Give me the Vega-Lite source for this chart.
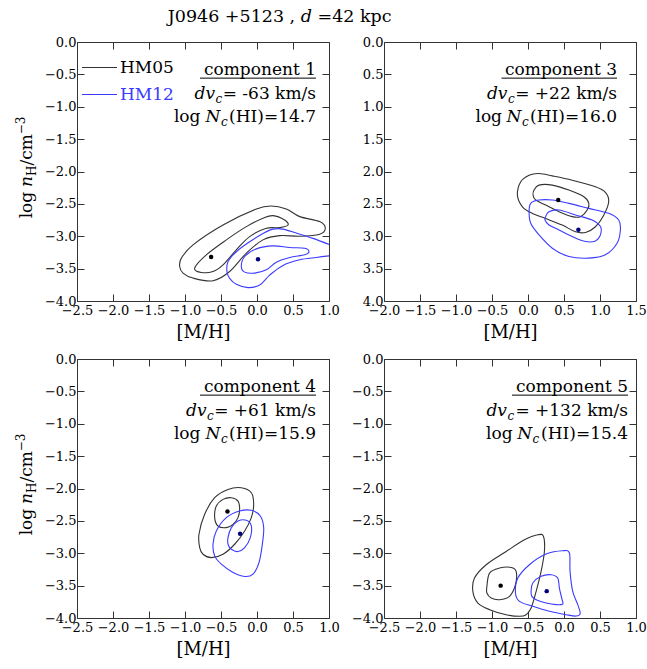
{
  "$schema": "https://vega.github.io/schema/vega-lite/v6.json",
  "background": "white",
  "padding": {"left": 14, "top": 8, "right": 0, "bottom": 0},
  "bounds": "flush",
  "title": {"text": "J0946 +5123 , 𝑑 =42 kpc", "font": "DejaVu Serif", "fontSize": 17.5, "fontWeight": "normal", "color": "#000000", "anchor": "middle", "dx": -51, "offset": 10},
  "datasets": {
    "contours": [
      {"p":1,"m":"HM05","k":"o","i":0,"x":-1.074,"y":-3.467},{"p":1,"m":"HM05","k":"o","i":1,"x":-1.051,"y":-3.338},{"p":1,"m":"HM05","k":"o","i":2,"x":-0.889,"y":-3.133},{"p":1,"m":"HM05","k":"o","i":3,"x":-0.472,"y":-2.826},{"p":1,"m":"HM05","k":"o","i":4,"x":-0.009,"y":-2.58},{"p":1,"m":"HM05","k":"o","i":5,"x":0.199,"y":-2.533},{"p":1,"m":"HM05","k":"o","i":6,"x":0.407,"y":-2.58},{"p":1,"m":"HM05","k":"o","i":7,"x":0.593,"y":-2.697},{"p":1,"m":"HM05","k":"o","i":8,"x":0.87,"y":-2.774},{"p":1,"m":"HM05","k":"o","i":9,"x":0.949,"y":-2.877},{"p":1,"m":"HM05","k":"o","i":10,"x":0.87,"y":-2.969},{"p":1,"m":"HM05","k":"o","i":11,"x":0.593,"y":-3.0},{"p":1,"m":"HM05","k":"o","i":12,"x":0.315,"y":-2.99},{"p":1,"m":"HM05","k":"o","i":13,"x":0.083,"y":-3.056},{"p":1,"m":"HM05","k":"o","i":14,"x":-0.148,"y":-3.261},{"p":1,"m":"HM05","k":"o","i":15,"x":-0.38,"y":-3.544},{"p":1,"m":"HM05","k":"o","i":16,"x":-0.611,"y":-3.687},{"p":1,"m":"HM05","k":"o","i":17,"x":-0.889,"y":-3.646},{"p":1,"m":"HM05","k":"o","i":18,"x":-1.028,"y":-3.569},
      {"p":1,"m":"HM05","k":"i","i":0,"x":-0.866,"y":-3.492},{"p":1,"m":"HM05","k":"i","i":1,"x":-0.704,"y":-3.287},{"p":1,"m":"HM05","k":"i","i":2,"x":-0.426,"y":-3.056},{"p":1,"m":"HM05","k":"i","i":3,"x":-0.148,"y":-2.851},{"p":1,"m":"HM05","k":"i","i":4,"x":0.083,"y":-2.723},{"p":1,"m":"HM05","k":"i","i":5,"x":0.222,"y":-2.682},{"p":1,"m":"HM05","k":"i","i":6,"x":0.384,"y":-2.749},{"p":1,"m":"HM05","k":"i","i":7,"x":0.431,"y":-2.826},{"p":1,"m":"HM05","k":"i","i":8,"x":0.315,"y":-2.867},{"p":1,"m":"HM05","k":"i","i":9,"x":0.13,"y":-2.877},{"p":1,"m":"HM05","k":"i","i":10,"x":-0.102,"y":-3.005},{"p":1,"m":"HM05","k":"i","i":11,"x":-0.287,"y":-3.21},{"p":1,"m":"HM05","k":"i","i":12,"x":-0.472,"y":-3.441},{"p":1,"m":"HM05","k":"i","i":13,"x":-0.611,"y":-3.544},{"p":1,"m":"HM05","k":"i","i":14,"x":-0.773,"y":-3.559},
      {"p":1,"m":"HM12","k":"open","i":0,"x":1.03,"y":-3.14},{"p":1,"m":"HM12","k":"open","i":1,"x":0.778,"y":-3.033},{"p":1,"m":"HM12","k":"open","i":2,"x":0.546,"y":-2.95},{"p":1,"m":"HM12","k":"open","i":3,"x":0.36,"y":-2.89},{"p":1,"m":"HM12","k":"open","i":4,"x":0.222,"y":-2.89},{"p":1,"m":"HM12","k":"open","i":5,"x":0.083,"y":-2.956},{"p":1,"m":"HM12","k":"open","i":6,"x":-0.102,"y":-3.085},{"p":1,"m":"HM12","k":"open","i":7,"x":-0.287,"y":-3.239},{"p":1,"m":"HM12","k":"open","i":8,"x":-0.403,"y":-3.393},{"p":1,"m":"HM12","k":"open","i":9,"x":-0.417,"y":-3.548},{"p":1,"m":"HM12","k":"open","i":10,"x":-0.38,"y":-3.65},{"p":1,"m":"HM12","k":"open","i":11,"x":-0.287,"y":-3.743},{"p":1,"m":"HM12","k":"open","i":12,"x":-0.125,"y":-3.794},{"p":1,"m":"HM12","k":"open","i":13,"x":0.037,"y":-3.753},{"p":1,"m":"HM12","k":"open","i":14,"x":0.176,"y":-3.6},{"p":1,"m":"HM12","k":"open","i":15,"x":0.361,"y":-3.45},{"p":1,"m":"HM12","k":"open","i":16,"x":0.593,"y":-3.364},{"p":1,"m":"HM12","k":"open","i":17,"x":0.824,"y":-3.328},{"p":1,"m":"HM12","k":"open","i":18,"x":1.03,"y":-3.3},
      {"p":1,"m":"HM12","k":"i","i":0,"x":-0.218,"y":-3.467},{"p":1,"m":"HM12","k":"i","i":1,"x":-0.171,"y":-3.313},{"p":1,"m":"HM12","k":"i","i":2,"x":-0.009,"y":-3.195},{"p":1,"m":"HM12","k":"i","i":3,"x":0.222,"y":-3.149},{"p":1,"m":"HM12","k":"i","i":4,"x":0.454,"y":-3.174},{"p":1,"m":"HM12","k":"i","i":5,"x":0.662,"y":-3.185},{"p":1,"m":"HM12","k":"i","i":6,"x":0.722,"y":-3.236},{"p":1,"m":"HM12","k":"i","i":7,"x":0.662,"y":-3.287},{"p":1,"m":"HM12","k":"i","i":8,"x":0.454,"y":-3.328},{"p":1,"m":"HM12","k":"i","i":9,"x":0.269,"y":-3.4},{"p":1,"m":"HM12","k":"i","i":10,"x":0.13,"y":-3.518},{"p":1,"m":"HM12","k":"i","i":11,"x":-0.032,"y":-3.569},{"p":1,"m":"HM12","k":"i","i":12,"x":-0.171,"y":-3.554},
      {"p":3,"m":"HM05","k":"o","i":0,"x":-0.147,"y":-2.365},{"p":3,"m":"HM05","k":"o","i":1,"x":-0.101,"y":-2.159},{"p":3,"m":"HM05","k":"o","i":2,"x":0.015,"y":-2.057},{"p":3,"m":"HM05","k":"o","i":3,"x":0.153,"y":-2.031},{"p":3,"m":"HM05","k":"o","i":4,"x":0.337,"y":-2.067},{"p":3,"m":"HM05","k":"o","i":5,"x":0.614,"y":-2.134},{"p":3,"m":"HM05","k":"o","i":6,"x":0.937,"y":-2.237},{"p":3,"m":"HM05","k":"o","i":7,"x":1.075,"y":-2.324},{"p":3,"m":"HM05","k":"o","i":8,"x":1.121,"y":-2.468},{"p":3,"m":"HM05","k":"o","i":9,"x":1.052,"y":-2.674},{"p":3,"m":"HM05","k":"o","i":10,"x":0.937,"y":-2.853},{"p":3,"m":"HM05","k":"o","i":11,"x":0.799,"y":-2.941},{"p":3,"m":"HM05","k":"o","i":12,"x":0.66,"y":-2.931},{"p":3,"m":"HM05","k":"o","i":13,"x":0.476,"y":-2.828},{"p":3,"m":"HM05","k":"o","i":14,"x":0.245,"y":-2.725},{"p":3,"m":"HM05","k":"o","i":15,"x":0.061,"y":-2.648},{"p":3,"m":"HM05","k":"o","i":16,"x":-0.077,"y":-2.545},
      {"p":3,"m":"HM05","k":"i","i":0,"x":0.084,"y":-2.287},{"p":3,"m":"HM05","k":"i","i":1,"x":0.153,"y":-2.21},{"p":3,"m":"HM05","k":"i","i":2,"x":0.338,"y":-2.21},{"p":3,"m":"HM05","k":"i","i":3,"x":0.568,"y":-2.287},{"p":3,"m":"HM05","k":"i","i":4,"x":0.776,"y":-2.39},{"p":3,"m":"HM05","k":"i","i":5,"x":0.845,"y":-2.492},{"p":3,"m":"HM05","k":"i","i":6,"x":0.822,"y":-2.595},{"p":3,"m":"HM05","k":"i","i":7,"x":0.729,"y":-2.697},{"p":3,"m":"HM05","k":"i","i":8,"x":0.614,"y":-2.697},{"p":3,"m":"HM05","k":"i","i":9,"x":0.43,"y":-2.621},{"p":3,"m":"HM05","k":"i","i":10,"x":0.245,"y":-2.518},{"p":3,"m":"HM05","k":"i","i":11,"x":0.107,"y":-2.441},{"p":3,"m":"HM05","k":"i","i":12,"x":0.07,"y":-2.364},
      {"p":3,"m":"HM12","k":"o","i":0,"x":0.015,"y":-2.621},{"p":3,"m":"HM12","k":"o","i":1,"x":0.038,"y":-2.492},{"p":3,"m":"HM12","k":"o","i":2,"x":0.153,"y":-2.441},{"p":3,"m":"HM12","k":"o","i":3,"x":0.338,"y":-2.441},{"p":3,"m":"HM12","k":"o","i":4,"x":0.568,"y":-2.492},{"p":3,"m":"HM12","k":"o","i":5,"x":0.845,"y":-2.569},{"p":3,"m":"HM12","k":"o","i":6,"x":1.121,"y":-2.646},{"p":3,"m":"HM12","k":"o","i":7,"x":1.26,"y":-2.749},{"p":3,"m":"HM12","k":"o","i":8,"x":1.283,"y":-2.903},{"p":3,"m":"HM12","k":"o","i":9,"x":1.237,"y":-3.108},{"p":3,"m":"HM12","k":"o","i":10,"x":1.075,"y":-3.287},{"p":3,"m":"HM12","k":"o","i":11,"x":0.845,"y":-3.338},{"p":3,"m":"HM12","k":"o","i":12,"x":0.568,"y":-3.313},{"p":3,"m":"HM12","k":"o","i":13,"x":0.338,"y":-3.185},{"p":3,"m":"HM12","k":"o","i":14,"x":0.153,"y":-2.979},{"p":3,"m":"HM12","k":"o","i":15,"x":0.038,"y":-2.8},
      {"p":3,"m":"HM12","k":"i","i":0,"x":0.245,"y":-2.697},{"p":3,"m":"HM12","k":"i","i":1,"x":0.291,"y":-2.621},{"p":3,"m":"HM12","k":"i","i":2,"x":0.43,"y":-2.595},{"p":3,"m":"HM12","k":"i","i":3,"x":0.66,"y":-2.672},{"p":3,"m":"HM12","k":"i","i":4,"x":0.891,"y":-2.749},{"p":3,"m":"HM12","k":"i","i":5,"x":1.006,"y":-2.851},{"p":3,"m":"HM12","k":"i","i":6,"x":1.006,"y":-2.979},{"p":3,"m":"HM12","k":"i","i":7,"x":0.937,"y":-3.072},{"p":3,"m":"HM12","k":"i","i":8,"x":0.799,"y":-3.082},{"p":3,"m":"HM12","k":"i","i":9,"x":0.614,"y":-3.005},{"p":3,"m":"HM12","k":"i","i":10,"x":0.43,"y":-2.903},{"p":3,"m":"HM12","k":"i","i":11,"x":0.291,"y":-2.826},{"p":3,"m":"HM12","k":"i","i":12,"x":0.236,"y":-2.749},
      {"p":4,"m":"HM05","k":"o","i":0,"x":-0.796,"y":-2.913},{"p":4,"m":"HM05","k":"o","i":1,"x":-0.806,"y":-2.707},{"p":4,"m":"HM05","k":"o","i":2,"x":-0.727,"y":-2.399},{"p":4,"m":"HM05","k":"o","i":3,"x":-0.588,"y":-2.142},{"p":4,"m":"HM05","k":"o","i":4,"x":-0.403,"y":-2.014},{"p":4,"m":"HM05","k":"o","i":5,"x":-0.218,"y":-1.988},{"p":4,"m":"HM05","k":"o","i":6,"x":-0.079,"y":-2.065},{"p":4,"m":"HM05","k":"o","i":7,"x":-0.046,"y":-2.245},{"p":4,"m":"HM05","k":"o","i":8,"x":-0.079,"y":-2.45},{"p":4,"m":"HM05","k":"o","i":9,"x":-0.171,"y":-2.656},{"p":4,"m":"HM05","k":"o","i":10,"x":-0.31,"y":-2.861},{"p":4,"m":"HM05","k":"o","i":11,"x":-0.472,"y":-3.015},{"p":4,"m":"HM05","k":"o","i":12,"x":-0.634,"y":-3.067},{"p":4,"m":"HM05","k":"o","i":13,"x":-0.75,"y":-3.015},
      {"p":4,"m":"HM05","k":"i","i":0,"x":-0.588,"y":-2.45},{"p":4,"m":"HM05","k":"i","i":1,"x":-0.565,"y":-2.271},{"p":4,"m":"HM05","k":"i","i":2,"x":-0.472,"y":-2.168},{"p":4,"m":"HM05","k":"i","i":3,"x":-0.356,"y":-2.142},{"p":4,"m":"HM05","k":"i","i":4,"x":-0.264,"y":-2.194},{"p":4,"m":"HM05","k":"i","i":5,"x":-0.241,"y":-2.322},{"p":4,"m":"HM05","k":"i","i":6,"x":-0.264,"y":-2.45},{"p":4,"m":"HM05","k":"i","i":7,"x":-0.333,"y":-2.553},{"p":4,"m":"HM05","k":"i","i":8,"x":-0.426,"y":-2.604},{"p":4,"m":"HM05","k":"i","i":9,"x":-0.542,"y":-2.579},
      {"p":4,"m":"HM12","k":"o","i":0,"x":-0.611,"y":-2.861},{"p":4,"m":"HM12","k":"o","i":1,"x":-0.565,"y":-2.656},{"p":4,"m":"HM12","k":"o","i":2,"x":-0.426,"y":-2.45},{"p":4,"m":"HM12","k":"o","i":3,"x":-0.241,"y":-2.348},{"p":4,"m":"HM12","k":"o","i":4,"x":-0.079,"y":-2.337},{"p":4,"m":"HM12","k":"o","i":5,"x":0.046,"y":-2.425},{"p":4,"m":"HM12","k":"o","i":6,"x":0.093,"y":-2.604},{"p":4,"m":"HM12","k":"o","i":7,"x":0.074,"y":-2.861},{"p":4,"m":"HM12","k":"o","i":8,"x":0.028,"y":-3.144},{"p":4,"m":"HM12","k":"o","i":9,"x":-0.056,"y":-3.323},{"p":4,"m":"HM12","k":"o","i":10,"x":-0.171,"y":-3.359},{"p":4,"m":"HM12","k":"o","i":11,"x":-0.333,"y":-3.298},{"p":4,"m":"HM12","k":"o","i":12,"x":-0.495,"y":-3.169},{"p":4,"m":"HM12","k":"o","i":13,"x":-0.588,"y":-3.041},
      {"p":4,"m":"HM12","k":"i","i":0,"x":-0.403,"y":-2.758},{"p":4,"m":"HM12","k":"i","i":1,"x":-0.356,"y":-2.604},{"p":4,"m":"HM12","k":"i","i":2,"x":-0.264,"y":-2.502},{"p":4,"m":"HM12","k":"i","i":3,"x":-0.148,"y":-2.491},{"p":4,"m":"HM12","k":"i","i":4,"x":-0.079,"y":-2.579},{"p":4,"m":"HM12","k":"i","i":5,"x":-0.093,"y":-2.758},{"p":4,"m":"HM12","k":"i","i":6,"x":-0.171,"y":-2.913},{"p":4,"m":"HM12","k":"i","i":7,"x":-0.264,"y":-2.974},{"p":4,"m":"HM12","k":"i","i":8,"x":-0.356,"y":-2.938},{"p":4,"m":"HM12","k":"i","i":9,"x":-0.403,"y":-2.861},
      {"p":5,"m":"HM05","k":"o","i":0,"x":-1.266,"y":-3.589},{"p":5,"m":"HM05","k":"o","i":1,"x":-1.243,"y":-3.383},{"p":5,"m":"HM05","k":"o","i":2,"x":-1.081,"y":-3.177},{"p":5,"m":"HM05","k":"o","i":3,"x":-0.803,"y":-2.972},{"p":5,"m":"HM05","k":"o","i":4,"x":-0.549,"y":-2.792},{"p":5,"m":"HM05","k":"o","i":5,"x":-0.364,"y":-2.715},{"p":5,"m":"HM05","k":"o","i":6,"x":-0.285,"y":-2.74},{"p":5,"m":"HM05","k":"o","i":7,"x":-0.272,"y":-2.972},{"p":5,"m":"HM05","k":"o","i":8,"x":-0.318,"y":-3.28},{"p":5,"m":"HM05","k":"o","i":9,"x":-0.387,"y":-3.589},{"p":5,"m":"HM05","k":"o","i":10,"x":-0.457,"y":-3.846},{"p":5,"m":"HM05","k":"o","i":11,"x":-0.526,"y":-3.949},{"p":5,"m":"HM05","k":"o","i":12,"x":-0.618,"y":-3.974},{"p":5,"m":"HM05","k":"o","i":13,"x":-0.803,"y":-3.949},{"p":5,"m":"HM05","k":"o","i":14,"x":-1.034,"y":-3.871},{"p":5,"m":"HM05","k":"o","i":15,"x":-1.196,"y":-3.769},
      {"p":5,"m":"HM05","k":"i","i":0,"x":-1.071,"y":-3.512},{"p":5,"m":"HM05","k":"i","i":1,"x":-1.034,"y":-3.306},{"p":5,"m":"HM05","k":"i","i":2,"x":-0.896,"y":-3.229},{"p":5,"m":"HM05","k":"i","i":3,"x":-0.734,"y":-3.219},{"p":5,"m":"HM05","k":"i","i":4,"x":-0.665,"y":-3.28},{"p":5,"m":"HM05","k":"i","i":5,"x":-0.674,"y":-3.486},{"p":5,"m":"HM05","k":"i","i":6,"x":-0.757,"y":-3.666},{"p":5,"m":"HM05","k":"i","i":7,"x":-0.896,"y":-3.717},{"p":5,"m":"HM05","k":"i","i":8,"x":-1.011,"y":-3.692},{"p":5,"m":"HM05","k":"i","i":9,"x":-1.071,"y":-3.614},
      {"p":5,"m":"HM12","k":"o","i":0,"x":-0.674,"y":-3.614},{"p":5,"m":"HM12","k":"o","i":1,"x":-0.641,"y":-3.383},{"p":5,"m":"HM12","k":"o","i":2,"x":-0.48,"y":-3.177},{"p":5,"m":"HM12","k":"o","i":3,"x":-0.249,"y":-3.013},{"p":5,"m":"HM12","k":"o","i":4,"x":-0.017,"y":-2.961},{"p":5,"m":"HM12","k":"o","i":5,"x":0.075,"y":-2.997},{"p":5,"m":"HM12","k":"o","i":6,"x":0.084,"y":-3.28},{"p":5,"m":"HM12","k":"o","i":7,"x":0.121,"y":-3.589},{"p":5,"m":"HM12","k":"o","i":8,"x":0.19,"y":-3.79},{"p":5,"m":"HM12","k":"o","i":9,"x":0.225,"y":-3.93},{"p":5,"m":"HM12","k":"o","i":10,"x":0.17,"y":-3.97},{"p":5,"m":"HM12","k":"o","i":11,"x":0.029,"y":-3.949},{"p":5,"m":"HM12","k":"o","i":12,"x":-0.202,"y":-3.897},{"p":5,"m":"HM12","k":"o","i":13,"x":-0.433,"y":-3.82},{"p":5,"m":"HM12","k":"o","i":14,"x":-0.618,"y":-3.743},
      {"p":5,"m":"HM12","k":"i","i":0,"x":-0.457,"y":-3.589},{"p":5,"m":"HM12","k":"i","i":1,"x":-0.433,"y":-3.46},{"p":5,"m":"HM12","k":"i","i":2,"x":-0.318,"y":-3.357},{"p":5,"m":"HM12","k":"i","i":3,"x":-0.179,"y":-3.332},{"p":5,"m":"HM12","k":"i","i":4,"x":-0.087,"y":-3.383},{"p":5,"m":"HM12","k":"i","i":5,"x":-0.064,"y":-3.537},{"p":5,"m":"HM12","k":"i","i":6,"x":-0.027,"y":-3.717},{"p":5,"m":"HM12","k":"i","i":7,"x":-0.017,"y":-3.784},{"p":5,"m":"HM12","k":"i","i":8,"x":-0.11,"y":-3.794},{"p":5,"m":"HM12","k":"i","i":9,"x":-0.249,"y":-3.769},{"p":5,"m":"HM12","k":"i","i":10,"x":-0.387,"y":-3.717},{"p":5,"m":"HM12","k":"i","i":11,"x":-0.447,"y":-3.666}
    ],
    "points": [
      {"p":1,"m":"HM05","x":-0.637,"y":-3.32},{"p":1,"m":"HM12","x":0.014,"y":-3.355},
      {"p":3,"m":"HM05","x":0.42,"y":-2.44},{"p":3,"m":"HM12","x":0.70,"y":-2.90},
      {"p":4,"m":"HM05","x":-0.41,"y":-2.355},{"p":4,"m":"HM12","x":-0.235,"y":-2.70},
      {"p":5,"m":"HM05","x":-0.88,"y":-3.50},{"p":5,"m":"HM12","x":-0.24,"y":-3.585}
    ],
    "notes": [
      {"p":1,"comp":"component 1","dv":"dv","c":"c","vel":"= -63 km/s","lg":"log","N":"N","hi":"(HI)=14.7","yl":"log","yn":"n","yh":"H","ycm":"/cm","ye":"−3"},
      {"p":3,"comp":"component 3","dv":"dv","c":"c","vel":"= +22 km/s","lg":"log","N":"N","hi":"(HI)=16.0"},
      {"p":4,"comp":"component 4","dv":"dv","c":"c","vel":"= +61 km/s","lg":"log","N":"N","hi":"(HI)=15.9","yl":"log","yn":"n","yh":"H","ycm":"/cm","ye":"−3"},
      {"p":5,"comp":"component 5","dv":"dv","c":"c","vel":"= +132 km/s","lg":"log","N":"N","hi":"(HI)=15.4"}
    ]
  },
  "columns": 2,
  "spacing": {"row": 58, "column": 55},
  "resolve": {"scale": {"stroke": "independent", "fill": "independent"}, "legend": {"stroke": "independent", "fill": "independent"}},
  "concat": [
    {
      "width": 252, "height": 259,
      "resolve": {"axis": {"x": "independent", "y": "independent"}},
      "layer": [
        {"data": {"name": "contours"}, "transform": [{"filter": "datum.p == 1 && datum.k != 'open'"}],
         "mark": {"type": "line", "interpolate": "cardinal-closed", "strokeWidth": 1.1, "clip": true},
         "encoding": {
           "x": {"field": "x", "type": "quantitative", "scale": {"domain": [-2.5, 1], "nice": false, "zero": false}, "axis": {"title": "[M/H]", "values": [-2.5,-2,-1.5,-1,-0.5,0,0.5,1], "format": ".1f"}},
           "y": {"field": "y", "type": "quantitative", "scale": {"domain": [-4, 0], "nice": false, "zero": false}, "axis": {"title": null, "values": [-4,-3.5,-3,-2.5,-2,-1.5,-1,-0.5,0], "format": ".1f"}},
           "stroke": {"field": "m", "type": "nominal", "scale": {"domain": ["HM05","HM12"], "range": ["#333333","#3b3bff"]},
             "legend": {"title": null, "orient": "none", "legendX": 4, "legendY": 7, "symbolType": "stroke", "symbolSize": 1225, "symbolStrokeWidth": 1.2, "labelFont": "DejaVu Serif", "labelFontSize": 17, "labelOffset": 2, "rowPadding": -12, "padding": 0,
               "encode": {"labels": {"update": {"fill": {"signal": "datum.value === 'HM12' ? '#3b3bff' : '#000000'"}}}}}},
           "detail": {"field": "k", "type": "nominal"},
           "order": {"field": "i", "type": "quantitative"}
         }},
        {"data": {"name": "contours"}, "transform": [{"filter": "datum.p == 1 && datum.k == 'open'"}],
         "mark": {"type": "line", "interpolate": "cardinal", "strokeWidth": 1.1, "clip": true, "stroke": "#3b3bff"},
         "encoding": {
           "x": {"field": "x", "type": "quantitative", "axis": null},
           "y": {"field": "y", "type": "quantitative", "axis": null},
           "order": {"field": "i", "type": "quantitative"}
         }},
        {"data": {"name": "points"}, "transform": [{"filter": "datum.p == 1"}],
         "mark": {"type": "circle", "size": 20, "opacity": 1},
         "encoding": {
           "x": {"field": "x", "type": "quantitative", "axis": null},
           "y": {"field": "y", "type": "quantitative", "axis": null},
           "fill": {"field": "m", "type": "nominal", "scale": {"domain": ["HM05","HM12"], "range": ["#000000","#00007f"]}, "legend": null}
         }},
        {"data": {"name": "points"}, "transform": [{"filter": "datum.p == 1"}],
         "mark": {"type": "point", "opacity": 0},
         "encoding": {
           "x": {"field": "x", "type": "quantitative", "axis": {"orient": "top", "labels": false, "title": null, "values": [-2.5,-2,-1.5,-1,-0.5,0,0.5,1]}},
           "y": {"field": "y", "type": "quantitative", "axis": {"orient": "right", "labels": false, "title": null, "values": [-4,-3.5,-3,-2.5,-2,-1.5,-1,-0.5,0]}}
         }},
        {"data": {"name": "notes"}, "transform": [{"filter": "datum.p == 1"}],
         "mark": {"type": "text", "align": "right", "baseline": "alphabetic", "fontSize": 17, "color": "#000000"},
         "encoding": {"x": {"datum": 0.8194, "type": "quantitative", "axis": null}, "y": {"datum": -0.51, "type": "quantitative", "axis": null}, "text": {"field": "comp"}}},
        {"data": {"name": "notes"}, "transform": [{"filter": "datum.p == 1"}],
         "mark": {"type": "rule", "strokeWidth": 1, "color": "#000000"},
         "encoding": {"x": {"datum": -0.792, "type": "quantitative", "axis": null}, "x2": {"datum": 0.8194}, "y": {"datum": -0.558, "type": "quantitative", "axis": null}}},
        {"data": {"name": "notes"}, "transform": [{"filter": "datum.p == 1"}],
         "mark": {"type": "text", "align": "right", "baseline": "alphabetic", "fontSize": 17, "color": "#000000"},
         "encoding": {"x": {"datum": 0.8194, "type": "quantitative", "axis": null}, "y": {"datum": -0.885, "type": "quantitative", "axis": null}, "text": {"field": "vel"}}},
        {"data": {"name": "notes"}, "transform": [{"filter": "datum.p == 1"}],
         "mark": {"type": "text", "align": "right", "baseline": "alphabetic", "fontSize": 17, "fontStyle": "italic", "color": "#000000"},
         "encoding": {"x": {"datum": -0.5833, "type": "quantitative", "axis": null}, "y": {"datum": -0.885, "type": "quantitative", "axis": null}, "text": {"field": "dv"}}},
        {"data": {"name": "notes"}, "transform": [{"filter": "datum.p == 1"}],
         "mark": {"type": "text", "align": "left", "baseline": "alphabetic", "fontSize": 12, "fontStyle": "italic", "color": "#000000"},
         "encoding": {"x": {"datum": -0.5764, "type": "quantitative", "axis": null}, "y": {"datum": -0.945, "type": "quantitative", "axis": null}, "text": {"field": "c"}}},
        {"data": {"name": "notes"}, "transform": [{"filter": "datum.p == 1"}],
         "mark": {"type": "text", "align": "right", "baseline": "alphabetic", "fontSize": 17, "color": "#000000"},
         "encoding": {"x": {"datum": 0.8194, "type": "quantitative", "axis": null}, "y": {"datum": -1.232, "type": "quantitative", "axis": null}, "text": {"field": "hi"}}},
        {"data": {"name": "notes"}, "transform": [{"filter": "datum.p == 1"}],
         "mark": {"type": "text", "align": "left", "baseline": "alphabetic", "fontSize": 12, "fontStyle": "italic", "color": "#000000"},
         "encoding": {"x": {"datum": -0.5, "type": "quantitative", "axis": null}, "y": {"datum": -1.292, "type": "quantitative", "axis": null}, "text": {"field": "c"}}},
        {"data": {"name": "notes"}, "transform": [{"filter": "datum.p == 1"}],
         "mark": {"type": "text", "align": "right", "baseline": "alphabetic", "fontSize": 17, "fontStyle": "italic", "color": "#000000"},
         "encoding": {"x": {"datum": -0.507, "type": "quantitative", "axis": null}, "y": {"datum": -1.232, "type": "quantitative", "axis": null}, "text": {"field": "N"}}},
        {"data": {"name": "notes"}, "transform": [{"filter": "datum.p == 1"}],
         "mark": {"type": "text", "align": "right", "baseline": "alphabetic", "fontSize": 17, "color": "#000000"},
         "encoding": {"x": {"datum": -0.785, "type": "quantitative", "axis": null}, "y": {"datum": -1.232, "type": "quantitative", "axis": null}, "text": {"field": "lg"}}},
        {"data": {"name": "notes"}, "transform": [{"filter": "datum.p == 1"}],
         "mark": {"type": "text", "align": "left", "baseline": "alphabetic", "angle": 270, "fontSize": 17, "color": "#000000"},
         "encoding": {"x": {"datum": -3.125, "type": "quantitative", "axis": null}, "y": {"datum": -2.723, "type": "quantitative", "axis": null}, "text": {"field": "yl"}}},
        {"data": {"name": "notes"}, "transform": [{"filter": "datum.p == 1"}],
         "mark": {"type": "text", "align": "left", "baseline": "alphabetic", "angle": 270, "fontSize": 17, "fontStyle": "italic", "color": "#000000"},
         "encoding": {"x": {"datum": -3.125, "type": "quantitative", "axis": null}, "y": {"datum": -2.238, "type": "quantitative", "axis": null}, "text": {"field": "yn"}}},
        {"data": {"name": "notes"}, "transform": [{"filter": "datum.p == 1"}],
         "mark": {"type": "text", "align": "left", "baseline": "alphabetic", "angle": 270, "fontSize": 12, "color": "#000000"},
         "encoding": {"x": {"datum": -3.069, "type": "quantitative", "axis": null}, "y": {"datum": -2.069, "type": "quantitative", "axis": null}, "text": {"field": "yh"}}},
        {"data": {"name": "notes"}, "transform": [{"filter": "datum.p == 1"}],
         "mark": {"type": "text", "align": "left", "baseline": "alphabetic", "angle": 270, "fontSize": 17, "color": "#000000"},
         "encoding": {"x": {"datum": -3.125, "type": "quantitative", "axis": null}, "y": {"datum": -1.908, "type": "quantitative", "axis": null}, "text": {"field": "ycm"}}},
        {"data": {"name": "notes"}, "transform": [{"filter": "datum.p == 1"}],
         "mark": {"type": "text", "align": "left", "baseline": "alphabetic", "angle": 270, "fontSize": 12, "color": "#000000"},
         "encoding": {"x": {"datum": -3.222, "type": "quantitative", "axis": null}, "y": {"datum": -1.425, "type": "quantitative", "axis": null}, "text": {"field": "ye"}}}
      ]
    },
    {
      "width": 252, "height": 259,
      "resolve": {"axis": {"x": "independent", "y": "independent"}},
      "layer": [
        {"data": {"name": "contours"}, "transform": [{"filter": "datum.p == 3"}],
         "mark": {"type": "line", "interpolate": "cardinal-closed", "strokeWidth": 1.1, "clip": true},
         "encoding": {
           "x": {"field": "x", "type": "quantitative", "scale": {"domain": [-2, 1.5], "nice": false, "zero": false}, "axis": {"title": "[M/H]", "values": [-2,-1.5,-1,-0.5,0,0.5,1,1.5], "format": ".1f"}},
           "y": {"field": "y", "type": "quantitative", "scale": {"domain": [-4, 0], "nice": false, "zero": false}, "axis": {"title": null, "values": [-4,-3.5,-3,-2.5,-2,-1.5,-1,-0.5,0], "labelExpr": "format(abs(datum.value), '.1f')"}},
           "stroke": {"field": "m", "type": "nominal", "scale": {"domain": ["HM05","HM12"], "range": ["#333333","#3b3bff"]}, "legend": null},
           "detail": {"field": "k", "type": "nominal"},
           "order": {"field": "i", "type": "quantitative"}
         }},
        {"data": {"name": "points"}, "transform": [{"filter": "datum.p == 3"}],
         "mark": {"type": "circle", "size": 20, "opacity": 1},
         "encoding": {
           "x": {"field": "x", "type": "quantitative", "axis": null},
           "y": {"field": "y", "type": "quantitative", "axis": null},
           "fill": {"field": "m", "type": "nominal", "scale": {"domain": ["HM05","HM12"], "range": ["#000000","#00007f"]}, "legend": null}
         }},
        {"data": {"name": "points"}, "transform": [{"filter": "datum.p == 3"}],
         "mark": {"type": "point", "opacity": 0},
         "encoding": {
           "x": {"field": "x", "type": "quantitative", "axis": {"orient": "top", "labels": false, "title": null, "values": [-2,-1.5,-1,-0.5,0,0.5,1,1.5]}},
           "y": {"field": "y", "type": "quantitative", "axis": {"orient": "right", "labels": false, "title": null, "values": [-4,-3.5,-3,-2.5,-2,-1.5,-1,-0.5,0]}}
         }},
        {"data": {"name": "notes"}, "transform": [{"filter": "datum.p == 3"}],
         "mark": {"type": "text", "align": "right", "baseline": "alphabetic", "fontSize": 17, "color": "#000000"},
         "encoding": {"x": {"datum": 1.2365, "type": "quantitative", "axis": null}, "y": {"datum": -0.51, "type": "quantitative", "axis": null}, "text": {"field": "comp"}}},
        {"data": {"name": "notes"}, "transform": [{"filter": "datum.p == 3"}],
         "mark": {"type": "rule", "strokeWidth": 1, "color": "#000000"},
         "encoding": {"x": {"datum": -0.368, "type": "quantitative", "axis": null}, "x2": {"datum": 1.2365}, "y": {"datum": -0.558, "type": "quantitative", "axis": null}}},
        {"data": {"name": "notes"}, "transform": [{"filter": "datum.p == 3"}],
         "mark": {"type": "text", "align": "right", "baseline": "alphabetic", "fontSize": 17, "color": "#000000"},
         "encoding": {"x": {"datum": 1.2365, "type": "quantitative", "axis": null}, "y": {"datum": -0.885, "type": "quantitative", "axis": null}, "text": {"field": "vel"}}},
        {"data": {"name": "notes"}, "transform": [{"filter": "datum.p == 3"}],
         "mark": {"type": "text", "align": "right", "baseline": "alphabetic", "fontSize": 17, "fontStyle": "italic", "color": "#000000"},
         "encoding": {"x": {"datum": -0.285, "type": "quantitative", "axis": null}, "y": {"datum": -0.885, "type": "quantitative", "axis": null}, "text": {"field": "dv"}}},
        {"data": {"name": "notes"}, "transform": [{"filter": "datum.p == 3"}],
         "mark": {"type": "text", "align": "left", "baseline": "alphabetic", "fontSize": 12, "fontStyle": "italic", "color": "#000000"},
         "encoding": {"x": {"datum": -0.278, "type": "quantitative", "axis": null}, "y": {"datum": -0.945, "type": "quantitative", "axis": null}, "text": {"field": "c"}}},
        {"data": {"name": "notes"}, "transform": [{"filter": "datum.p == 3"}],
         "mark": {"type": "text", "align": "right", "baseline": "alphabetic", "fontSize": 17, "color": "#000000"},
         "encoding": {"x": {"datum": 1.2365, "type": "quantitative", "axis": null}, "y": {"datum": -1.232, "type": "quantitative", "axis": null}, "text": {"field": "hi"}}},
        {"data": {"name": "notes"}, "transform": [{"filter": "datum.p == 3"}],
         "mark": {"type": "text", "align": "left", "baseline": "alphabetic", "fontSize": 12, "fontStyle": "italic", "color": "#000000"},
         "encoding": {"x": {"datum": -0.084, "type": "quantitative", "axis": null}, "y": {"datum": -1.292, "type": "quantitative", "axis": null}, "text": {"field": "c"}}},
        {"data": {"name": "notes"}, "transform": [{"filter": "datum.p == 3"}],
         "mark": {"type": "text", "align": "right", "baseline": "alphabetic", "fontSize": 17, "fontStyle": "italic", "color": "#000000"},
         "encoding": {"x": {"datum": -0.091, "type": "quantitative", "axis": null}, "y": {"datum": -1.232, "type": "quantitative", "axis": null}, "text": {"field": "N"}}},
        {"data": {"name": "notes"}, "transform": [{"filter": "datum.p == 3"}],
         "mark": {"type": "text", "align": "right", "baseline": "alphabetic", "fontSize": 17, "color": "#000000"},
         "encoding": {"x": {"datum": -0.361, "type": "quantitative", "axis": null}, "y": {"datum": -1.232, "type": "quantitative", "axis": null}, "text": {"field": "lg"}}}
      ]
    },
    {
      "width": 252, "height": 259,
      "resolve": {"axis": {"x": "independent", "y": "independent"}},
      "layer": [
        {"data": {"name": "contours"}, "transform": [{"filter": "datum.p == 4"}],
         "mark": {"type": "line", "interpolate": "cardinal-closed", "strokeWidth": 1.1, "clip": true},
         "encoding": {
           "x": {"field": "x", "type": "quantitative", "scale": {"domain": [-2.5, 1], "nice": false, "zero": false}, "axis": {"title": "[M/H]", "values": [-2.5,-2,-1.5,-1,-0.5,0,0.5,1], "format": ".1f"}},
           "y": {"field": "y", "type": "quantitative", "scale": {"domain": [-4, 0], "nice": false, "zero": false}, "axis": {"title": null, "values": [-4,-3.5,-3,-2.5,-2,-1.5,-1,-0.5,0], "format": ".1f"}},
           "stroke": {"field": "m", "type": "nominal", "scale": {"domain": ["HM05","HM12"], "range": ["#333333","#3b3bff"]}, "legend": null},
           "detail": {"field": "k", "type": "nominal"},
           "order": {"field": "i", "type": "quantitative"}
         }},
        {"data": {"name": "points"}, "transform": [{"filter": "datum.p == 4"}],
         "mark": {"type": "circle", "size": 20, "opacity": 1},
         "encoding": {
           "x": {"field": "x", "type": "quantitative", "axis": null},
           "y": {"field": "y", "type": "quantitative", "axis": null},
           "fill": {"field": "m", "type": "nominal", "scale": {"domain": ["HM05","HM12"], "range": ["#000000","#00007f"]}, "legend": null}
         }},
        {"data": {"name": "points"}, "transform": [{"filter": "datum.p == 4"}],
         "mark": {"type": "point", "opacity": 0},
         "encoding": {
           "x": {"field": "x", "type": "quantitative", "axis": {"orient": "top", "labels": false, "title": null, "values": [-2.5,-2,-1.5,-1,-0.5,0,0.5,1]}},
           "y": {"field": "y", "type": "quantitative", "axis": {"orient": "right", "labels": false, "title": null, "values": [-4,-3.5,-3,-2.5,-2,-1.5,-1,-0.5,0]}}
         }},
        {"data": {"name": "notes"}, "transform": [{"filter": "datum.p == 4"}],
         "mark": {"type": "text", "align": "right", "baseline": "alphabetic", "fontSize": 17, "color": "#000000"},
         "encoding": {"x": {"datum": 0.8194, "type": "quantitative", "axis": null}, "y": {"datum": -0.51, "type": "quantitative", "axis": null}, "text": {"field": "comp"}}},
        {"data": {"name": "notes"}, "transform": [{"filter": "datum.p == 4"}],
         "mark": {"type": "rule", "strokeWidth": 1, "color": "#000000"},
         "encoding": {"x": {"datum": -0.792, "type": "quantitative", "axis": null}, "x2": {"datum": 0.8194}, "y": {"datum": -0.558, "type": "quantitative", "axis": null}}},
        {"data": {"name": "notes"}, "transform": [{"filter": "datum.p == 4"}],
         "mark": {"type": "text", "align": "right", "baseline": "alphabetic", "fontSize": 17, "color": "#000000"},
         "encoding": {"x": {"datum": 0.8194, "type": "quantitative", "axis": null}, "y": {"datum": -0.885, "type": "quantitative", "axis": null}, "text": {"field": "vel"}}},
        {"data": {"name": "notes"}, "transform": [{"filter": "datum.p == 4"}],
         "mark": {"type": "text", "align": "right", "baseline": "alphabetic", "fontSize": 17, "fontStyle": "italic", "color": "#000000"},
         "encoding": {"x": {"datum": -0.701, "type": "quantitative", "axis": null}, "y": {"datum": -0.885, "type": "quantitative", "axis": null}, "text": {"field": "dv"}}},
        {"data": {"name": "notes"}, "transform": [{"filter": "datum.p == 4"}],
         "mark": {"type": "text", "align": "left", "baseline": "alphabetic", "fontSize": 12, "fontStyle": "italic", "color": "#000000"},
         "encoding": {"x": {"datum": -0.694, "type": "quantitative", "axis": null}, "y": {"datum": -0.945, "type": "quantitative", "axis": null}, "text": {"field": "c"}}},
        {"data": {"name": "notes"}, "transform": [{"filter": "datum.p == 4"}],
         "mark": {"type": "text", "align": "right", "baseline": "alphabetic", "fontSize": 17, "color": "#000000"},
         "encoding": {"x": {"datum": 0.8194, "type": "quantitative", "axis": null}, "y": {"datum": -1.232, "type": "quantitative", "axis": null}, "text": {"field": "hi"}}},
        {"data": {"name": "notes"}, "transform": [{"filter": "datum.p == 4"}],
         "mark": {"type": "text", "align": "left", "baseline": "alphabetic", "fontSize": 12, "fontStyle": "italic", "color": "#000000"},
         "encoding": {"x": {"datum": -0.5, "type": "quantitative", "axis": null}, "y": {"datum": -1.292, "type": "quantitative", "axis": null}, "text": {"field": "c"}}},
        {"data": {"name": "notes"}, "transform": [{"filter": "datum.p == 4"}],
         "mark": {"type": "text", "align": "right", "baseline": "alphabetic", "fontSize": 17, "fontStyle": "italic", "color": "#000000"},
         "encoding": {"x": {"datum": -0.507, "type": "quantitative", "axis": null}, "y": {"datum": -1.232, "type": "quantitative", "axis": null}, "text": {"field": "N"}}},
        {"data": {"name": "notes"}, "transform": [{"filter": "datum.p == 4"}],
         "mark": {"type": "text", "align": "right", "baseline": "alphabetic", "fontSize": 17, "color": "#000000"},
         "encoding": {"x": {"datum": -0.785, "type": "quantitative", "axis": null}, "y": {"datum": -1.232, "type": "quantitative", "axis": null}, "text": {"field": "lg"}}},
        {"data": {"name": "notes"}, "transform": [{"filter": "datum.p == 4"}],
         "mark": {"type": "text", "align": "left", "baseline": "alphabetic", "angle": 270, "fontSize": 17, "color": "#000000"},
         "encoding": {"x": {"datum": -3.125, "type": "quantitative", "axis": null}, "y": {"datum": -2.723, "type": "quantitative", "axis": null}, "text": {"field": "yl"}}},
        {"data": {"name": "notes"}, "transform": [{"filter": "datum.p == 4"}],
         "mark": {"type": "text", "align": "left", "baseline": "alphabetic", "angle": 270, "fontSize": 17, "fontStyle": "italic", "color": "#000000"},
         "encoding": {"x": {"datum": -3.125, "type": "quantitative", "axis": null}, "y": {"datum": -2.238, "type": "quantitative", "axis": null}, "text": {"field": "yn"}}},
        {"data": {"name": "notes"}, "transform": [{"filter": "datum.p == 4"}],
         "mark": {"type": "text", "align": "left", "baseline": "alphabetic", "angle": 270, "fontSize": 12, "color": "#000000"},
         "encoding": {"x": {"datum": -3.069, "type": "quantitative", "axis": null}, "y": {"datum": -2.069, "type": "quantitative", "axis": null}, "text": {"field": "yh"}}},
        {"data": {"name": "notes"}, "transform": [{"filter": "datum.p == 4"}],
         "mark": {"type": "text", "align": "left", "baseline": "alphabetic", "angle": 270, "fontSize": 17, "color": "#000000"},
         "encoding": {"x": {"datum": -3.125, "type": "quantitative", "axis": null}, "y": {"datum": -1.908, "type": "quantitative", "axis": null}, "text": {"field": "ycm"}}},
        {"data": {"name": "notes"}, "transform": [{"filter": "datum.p == 4"}],
         "mark": {"type": "text", "align": "left", "baseline": "alphabetic", "angle": 270, "fontSize": 12, "color": "#000000"},
         "encoding": {"x": {"datum": -3.222, "type": "quantitative", "axis": null}, "y": {"datum": -1.425, "type": "quantitative", "axis": null}, "text": {"field": "ye"}}}
      ]
    },
    {
      "width": 252, "height": 259,
      "resolve": {"axis": {"x": "independent", "y": "independent"}},
      "layer": [
        {"data": {"name": "contours"}, "transform": [{"filter": "datum.p == 5"}],
         "mark": {"type": "line", "interpolate": "cardinal-closed", "strokeWidth": 1.1, "clip": true},
         "encoding": {
           "x": {"field": "x", "type": "quantitative", "scale": {"domain": [-2.5, 1], "nice": false, "zero": false}, "axis": {"title": "[M/H]", "values": [-2.5,-2,-1.5,-1,-0.5,0,0.5,1], "format": ".1f"}},
           "y": {"field": "y", "type": "quantitative", "scale": {"domain": [-4, 0], "nice": false, "zero": false}, "axis": {"title": null, "values": [-4,-3.5,-3,-2.5,-2,-1.5,-1,-0.5,0], "format": ".1f"}},
           "stroke": {"field": "m", "type": "nominal", "scale": {"domain": ["HM05","HM12"], "range": ["#333333","#3b3bff"]}, "legend": null},
           "detail": {"field": "k", "type": "nominal"},
           "order": {"field": "i", "type": "quantitative"}
         }},
        {"data": {"name": "points"}, "transform": [{"filter": "datum.p == 5"}],
         "mark": {"type": "circle", "size": 20, "opacity": 1},
         "encoding": {
           "x": {"field": "x", "type": "quantitative", "axis": null},
           "y": {"field": "y", "type": "quantitative", "axis": null},
           "fill": {"field": "m", "type": "nominal", "scale": {"domain": ["HM05","HM12"], "range": ["#000000","#00007f"]}, "legend": null}
         }},
        {"data": {"name": "points"}, "transform": [{"filter": "datum.p == 5"}],
         "mark": {"type": "point", "opacity": 0},
         "encoding": {
           "x": {"field": "x", "type": "quantitative", "axis": {"orient": "top", "labels": false, "title": null, "values": [-2.5,-2,-1.5,-1,-0.5,0,0.5,1]}},
           "y": {"field": "y", "type": "quantitative", "axis": {"orient": "right", "labels": false, "title": null, "values": [-4,-3.5,-3,-2.5,-2,-1.5,-1,-0.5,0]}}
         }},
        {"data": {"name": "notes"}, "transform": [{"filter": "datum.p == 5"}],
         "mark": {"type": "text", "align": "right", "baseline": "alphabetic", "fontSize": 17, "color": "#000000"},
         "encoding": {"x": {"datum": 0.889, "type": "quantitative", "axis": null}, "y": {"datum": -0.51, "type": "quantitative", "axis": null}, "text": {"field": "comp"}}},
        {"data": {"name": "notes"}, "transform": [{"filter": "datum.p == 5"}],
         "mark": {"type": "rule", "strokeWidth": 1, "color": "#000000"},
         "encoding": {"x": {"datum": -0.722, "type": "quantitative", "axis": null}, "x2": {"datum": 0.889}, "y": {"datum": -0.558, "type": "quantitative", "axis": null}}},
        {"data": {"name": "notes"}, "transform": [{"filter": "datum.p == 5"}],
         "mark": {"type": "text", "align": "right", "baseline": "alphabetic", "fontSize": 17, "color": "#000000"},
         "encoding": {"x": {"datum": 0.889, "type": "quantitative", "axis": null}, "y": {"datum": -0.885, "type": "quantitative", "axis": null}, "text": {"field": "vel"}}},
        {"data": {"name": "notes"}, "transform": [{"filter": "datum.p == 5"}],
         "mark": {"type": "text", "align": "right", "baseline": "alphabetic", "fontSize": 17, "fontStyle": "italic", "color": "#000000"},
         "encoding": {"x": {"datum": -0.792, "type": "quantitative", "axis": null}, "y": {"datum": -0.885, "type": "quantitative", "axis": null}, "text": {"field": "dv"}}},
        {"data": {"name": "notes"}, "transform": [{"filter": "datum.p == 5"}],
         "mark": {"type": "text", "align": "left", "baseline": "alphabetic", "fontSize": 12, "fontStyle": "italic", "color": "#000000"},
         "encoding": {"x": {"datum": -0.785, "type": "quantitative", "axis": null}, "y": {"datum": -0.945, "type": "quantitative", "axis": null}, "text": {"field": "c"}}},
        {"data": {"name": "notes"}, "transform": [{"filter": "datum.p == 5"}],
         "mark": {"type": "text", "align": "right", "baseline": "alphabetic", "fontSize": 17, "color": "#000000"},
         "encoding": {"x": {"datum": 0.889, "type": "quantitative", "axis": null}, "y": {"datum": -1.232, "type": "quantitative", "axis": null}, "text": {"field": "hi"}}},
        {"data": {"name": "notes"}, "transform": [{"filter": "datum.p == 5"}],
         "mark": {"type": "text", "align": "left", "baseline": "alphabetic", "fontSize": 12, "fontStyle": "italic", "color": "#000000"},
         "encoding": {"x": {"datum": -0.4375, "type": "quantitative", "axis": null}, "y": {"datum": -1.292, "type": "quantitative", "axis": null}, "text": {"field": "c"}}},
        {"data": {"name": "notes"}, "transform": [{"filter": "datum.p == 5"}],
         "mark": {"type": "text", "align": "right", "baseline": "alphabetic", "fontSize": 17, "fontStyle": "italic", "color": "#000000"},
         "encoding": {"x": {"datum": -0.444, "type": "quantitative", "axis": null}, "y": {"datum": -1.232, "type": "quantitative", "axis": null}, "text": {"field": "N"}}},
        {"data": {"name": "notes"}, "transform": [{"filter": "datum.p == 5"}],
         "mark": {"type": "text", "align": "right", "baseline": "alphabetic", "fontSize": 17, "color": "#000000"},
         "encoding": {"x": {"datum": -0.715, "type": "quantitative", "axis": null}, "y": {"datum": -1.232, "type": "quantitative", "axis": null}, "text": {"field": "lg"}}}
      ]
    }
  ],
  "config": {
    "view": {"stroke": "#333333", "strokeWidth": 1},
    "font": "DejaVu Serif",
    "text": {"font": "DejaVu Serif"},
    "axis": {"domain": false, "grid": false, "ticks": true, "tickSize": -7, "tickColor": "#333333", "tickWidth": 1, "labelFont": "DejaVu Serif", "labelFontSize": 13, "labelColor": "#000000", "labelOverlap": false, "labelFlush": false, "titleFont": "DejaVu Serif", "titleFontSize": 18, "titleFontWeight": "normal", "titleColor": "#000000"},
    "axisX": {"labelPadding": 10, "titlePadding": 6},
    "axisY": {"labelPadding": 8}
  }
}
